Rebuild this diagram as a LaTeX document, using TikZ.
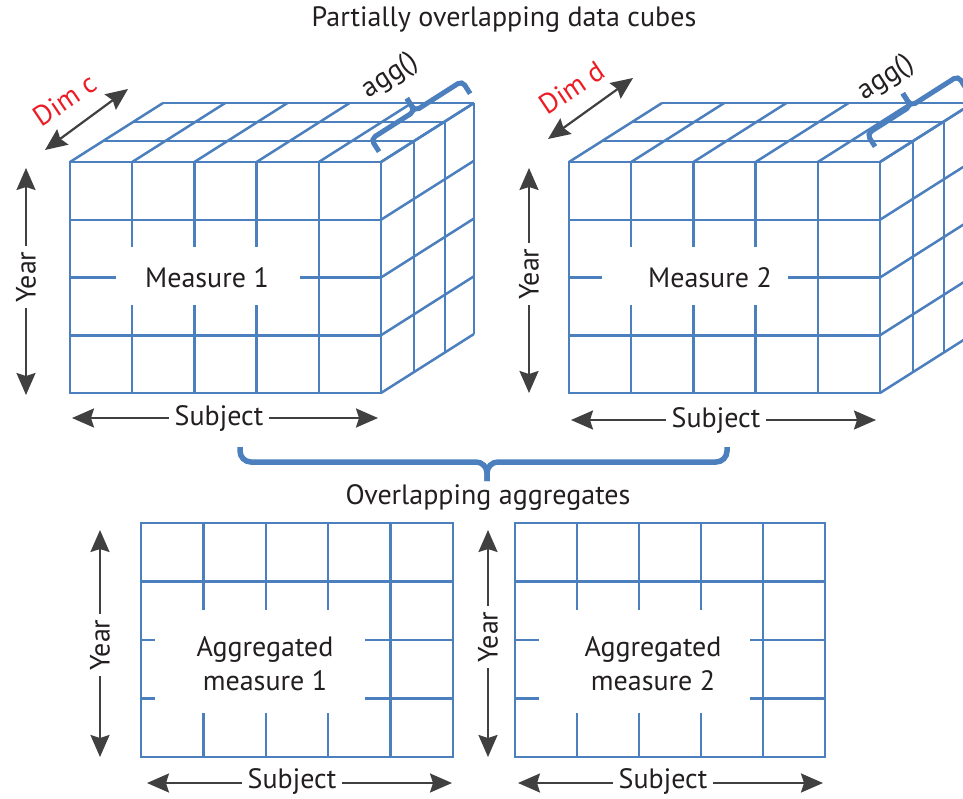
\documentclass[tikz,border=0pt]{standalone}
\usepackage{fontspec}
\setmainfont{PT Sans}
\usetikzlibrary{arrows.meta}
\definecolor{gridblue}{RGB}{76,127,190}
\definecolor{arrgray}{RGB}{64,64,64}
\definecolor{dimred}{RGB}{237,28,36}
\definecolor{txt}{RGB}{35,31,32}
\newcommand\drawcube[3]{% x0, gap left, gap right (local)
\begin{scope}[shift={(#1,162)}]
  \draw[grid] (0,0) rectangle (311,231);
  \draw[grid] (0,57.75) -- (311,57.75) (0,173.25) -- (311,173.25);
  \draw[grid] (0,115.5) -- (#2,115.5) (#3,115.5) -- (311,115.5);
  \draw[grid] (248.8,0) -- (248.8,231);
  \foreach \i in {1,2,3}{\draw[grid] (62.2*\i,0) -- (62.2*\i,85) (62.2*\i,143) -- (62.2*\i,231);}
  \foreach \dx/\dy in {33/-21,64/-40,93/-59}{
    \draw[grid] (\dx,\dy) -- (311+\dx,\dy);
    \draw[grid] (311+\dx,\dy) -- (311+\dx,231+\dy);}
  \foreach \i in {0,...,5}{\draw[grid] (62.2*\i,0) -- (62.2*\i+93,-59);}
  \foreach \j in {0,...,4}{\draw[grid] (311,57.75*\j) -- (404,57.75*\j-59);}
\end{scope}}
\newcommand\drawagg[5]{% x0, width, gap left, gap right, col width
\begin{scope}[shift={(#1,523)}]
  \draw[grid] (0,0) rectangle (#2,234);
  \draw[grid] (0,58.5) -- (#2,58.5);
  \draw[grid] (0,117) -- (#3,117) (#4,117) -- (#2,117);
  \draw[grid] (0,175.5) -- (#3,175.5) (#4,175.5) -- (#2,175.5);
  \draw[grid] (4*#5,0) -- (4*#5,234);
  \foreach \i in {1,2,3}{\draw[grid] (#5*\i,0) -- (#5*\i,87) (#5*\i,190) -- (#5*\i,234);}
\end{scope}}
\newcommand\uppbrace[2]{%
\begin{scope}[shift={(#1,#2)},rotate=32.5]
  \draw[brcU] (0,15) -- (0,0) -- (52,0) -- (52,-15);
  \draw[brcU] (52,-15) -- (52,0) -- (108,0) -- (108,15);
\end{scope}}
\begin{document}
\begin{tikzpicture}[x=1pt,y=-1pt,
  grid/.style={draw=gridblue,line width=2.5pt},
  brcU/.style={draw=gridblue,line width=5pt,rounded corners=5pt},
  brcB/.style={draw=gridblue,line width=5.5pt,rounded corners=11pt},
  axis/.style={draw=arrgray,line width=2.2pt,
    {Stealth[length=22pt,width=19pt,inset=3pt]}-{Stealth[length=22pt,width=19pt,inset=3pt]}},
  lbl/.style={font=\fontsize{28}{34}\selectfont,text=txt,inner sep=1pt},
  gaplbl/.style={lbl,fill=white,inner xsep=6pt},
  dimlbl/.style={font=\fontsize{28}{34}\selectfont,text=dimred,inner sep=1pt,rotate=34},
  agglbl/.style={lbl,rotate=33},
]
\clip (0,0) rectangle (963,798);
\fill[white] (0,0) rectangle (963,798);

\node[lbl] (title) at (504,20) {Partially overlapping data cubes};

% cubes
\drawcube{70}{46}{230}
\drawcube{569}{33}{219}
\node[lbl] (m1) at (207,278) {Measure 1};
\node[lbl] (m2) at (710,278) {Measure 2};

% braces on cubes
\uppbrace{371}{139}
\uppbrace{867}{134}
\node[agglbl] (agg1) at (390,76) {agg()};
\node[agglbl] (agg2) at (886,78) {agg()};

% Dim arrows
\coordinate (dc1) at (45,150); \coordinate (dc2) at (128,89);
\draw[axis] (dc1) -- (dc2);
\node[dimlbl] (dimc) at (65,100) {Dim c};
\coordinate (dd1) at (548,139); \coordinate (dd2) at (633,78);
\draw[axis] (dd1) -- (dd2);
\node[dimlbl] (dimd) at (572,88) {Dim d};

% Year arrows top
\coordinate (y1a) at (26,168); \coordinate (y1b) at (26,395);
\draw[axis] (y1a) -- (y1b);
\node[gaplbl,rotate=90] (year1) at (26,277) {Year};
\coordinate (y2a) at (529,168); \coordinate (y2b) at (529,393);
\draw[axis] (y2a) -- (y2b);
\node[gaplbl,rotate=90] (year2) at (529,274) {Year};

% Subject arrows top
\coordinate (s1a) at (72,418); \coordinate (s1b) at (378,418);
\draw[axis] (s1a) -- (s1b);
\node[gaplbl] (subj1) at (219,418) {Subject};
\coordinate (s2a) at (571,420); \coordinate (s2b) at (876,420);
\draw[axis] (s2a) -- (s2b);
\node[gaplbl] (subj2) at (716,420) {Subject};

% big brace
\draw[brcB] (240,447) -- (240,462) -- (487,462) -- (487,481);
\draw[brcB] (487,481) -- (487,462) -- (727,462) -- (727,447);
\node[lbl] (overlap) at (488,497) {Overlapping aggregates};

% aggregate grids
\drawagg{141}{312}{14}{224}{62.4}
\drawagg{515}{310}{24}{235}{62}
\node[lbl,align=center] (a1) at (265,664) {Aggregated\\measure 1};
\node[lbl,align=center] (a2) at (653,664) {Aggregated\\measure 2};

% Year arrows bottom
\coordinate (y3a) at (100,530); \coordinate (y3b) at (100,757);
\draw[axis] (y3a) -- (y3b);
\node[gaplbl,rotate=90] (year3) at (100,645) {Year};
\coordinate (y4a) at (488,530); \coordinate (y4b) at (488,757);
\draw[axis] (y4a) -- (y4b);
\node[gaplbl,rotate=90] (year4) at (488,637) {Year};

% Subject arrows bottom
\coordinate (s3a) at (147,783); \coordinate (s3b) at (452,783);
\draw[axis] (s3a) -- (s3b);
\node[gaplbl] (subj3) at (292,781) {Subject};
\coordinate (s4a) at (518,783); \coordinate (s4b) at (823,783);
\draw[axis] (s4a) -- (s4b);
\node[gaplbl] (subj4) at (663,781) {Subject};
\end{tikzpicture}
\end{document}
